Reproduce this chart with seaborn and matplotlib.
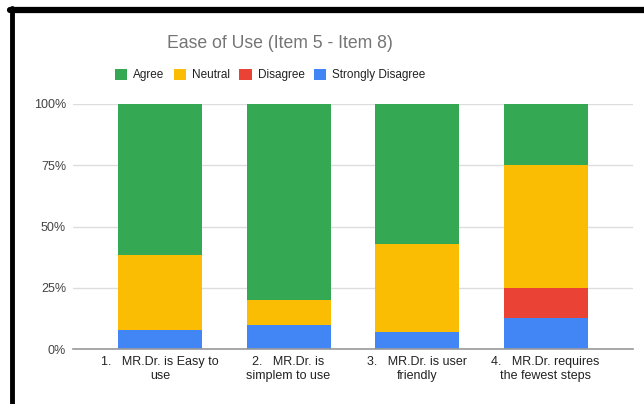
import matplotlib
matplotlib.use("Agg")
import matplotlib.pyplot as plt
import matplotlib.patches as mpatches
import matplotlib.lines as mlines
import numpy as np
import pandas as pd
import seaborn as sns

# Survey items and response shares (percent of respondents)
items = [
    "1.   MR.Dr. is Easy to\nuse",
    "2.   MR.Dr. is\nsimplem to use",
    "3.   MR.Dr. is user\nfriendly",
    "4.   MR.Dr. requires\nthe fewest steps",
]
agree = [61.5, 80.0, 57.1, 25.0]
neutral = [30.8, 10.0, 35.7, 50.0]
disagree = [0.0, 0.0, 0.0, 12.5]
strongly_disagree = [7.7, 10.0, 7.1, 12.5]

series_names = ["Agree", "Neutral", "Disagree", "Strongly Disagree"]
series_colors = ["#34A853", "#FBBC04", "#EA4335", "#4285F4"]
y_ticks = [0, 25, 50, 75, 100]
y_tick_labels = ["0%", "25%", "50%", "75%", "100%"]

sns.set_theme(style="white")
plt.rcParams["font.family"] = ["Liberation Sans", "DejaVu Sans"]

df = pd.DataFrame({
    "item": items,
    "Agree": agree,
    "Neutral": neutral,
    "Disagree": disagree,
    "Strongly Disagree": strongly_disagree,
})

fig = plt.figure(figsize=(6.44, 4.04), dpi=100)
ax = fig.add_axes([73 / 644, 1 - 349 / 404, 560 / 644, 245 / 404])

# Stack from bottom: Strongly Disagree, Disagree, Neutral, Agree.
# Draw cumulative totals tallest first so each layer shows its own band.
stack_order = ["Strongly Disagree", "Disagree", "Neutral", "Agree"]
cum = df[stack_order].cumsum(axis=1)
for name in reversed(stack_order):
    color = series_colors[series_names.index(name)]
    sns.barplot(data=pd.DataFrame({"item": items, "value": cum[name]}),
                x="item", y="value", order=items, color=color,
                width=0.654, saturation=1, ax=ax, linewidth=0)

ax.set_xlim(-0.677, 3.68)
ax.set_ylim(0, 100)
ax.set_yticks(y_ticks)
ax.set_yticklabels(y_tick_labels, fontsize=9, color="#444444")
ax.set_xlabel("")
ax.set_ylabel("")
ax.tick_params(axis="x", labelsize=9, colors="#222222", length=0, pad=5)
ax.tick_params(axis="y", length=0, pad=5)
for lbl in ax.get_xticklabels():
    lbl.set_linespacing(1.25)

ax.yaxis.grid(True, color="#dddddd", linewidth=1)
ax.set_axisbelow(True)
for side in ["top", "right", "left"]:
    ax.spines[side].set_visible(False)
ax.spines["bottom"].set_color("#999999")
ax.spines["bottom"].set_linewidth(1.2)

fig.text(280 / 644, 1 - 44 / 404, "Ease of Use (Item 5 - Item 8)",
         ha="center", va="center", fontsize=12.7, color="#757575")

handles = [mpatches.Patch(facecolor=c, edgecolor="none", label=n)
           for n, c in zip(series_names, series_colors)]
fig.legend(handles=handles, loc="center", bbox_to_anchor=(270 / 644, 1 - 75 / 404),
           ncol=4, frameon=False, fontsize=8.5, handlelength=1.05, handleheight=1.05,
           handletextpad=0.5, columnspacing=0.8, labelcolor="#222222")

# Window frame along the top and left edges
fig.add_artist(mlines.Line2D([10 / 644, 1], [1 - 10 / 404, 1 - 10 / 404],
                             color="black", linewidth=4.5, transform=fig.transFigure))
fig.add_artist(mlines.Line2D([12 / 644, 12 / 644], [0, 1 - 8 / 404],
                             color="black", linewidth=3.5, transform=fig.transFigure))

fig.savefig("out.png", dpi=100)
